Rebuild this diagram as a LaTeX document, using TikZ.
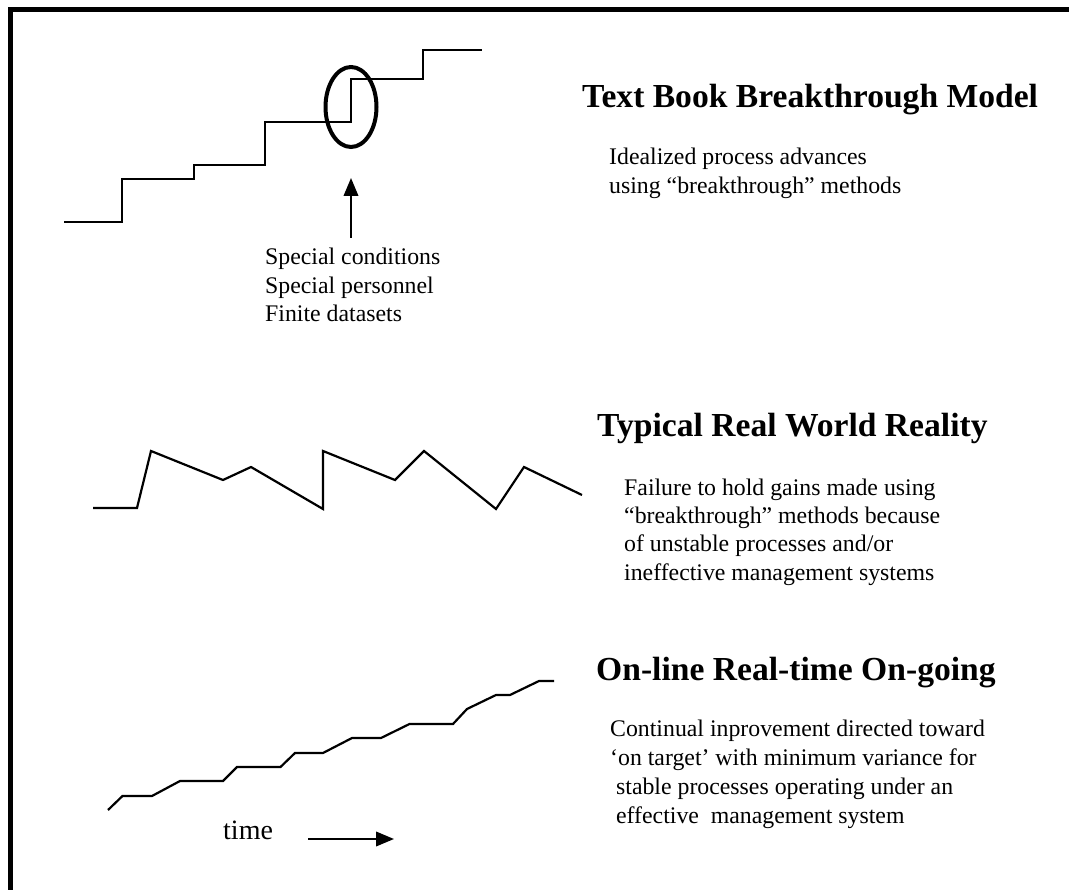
\documentclass[tikz,border=0pt]{standalone}
\usepackage{fontspec}
\setmainfont{Liberation Serif}
\usetikzlibrary{arrows.meta,shapes.geometric}

\begin{document}
\begin{tikzpicture}[x=1pt,y=-1pt]
  \tikzstyle{every node}=[inner sep=0pt,anchor=base west,align=left]
  \tikzstyle{heading}=[font=\fontsize{33.6}{40}\selectfont\bfseries]
  \tikzstyle{body}=[font=\fontsize{23.8}{28.4}\selectfont]
  \tikzstyle{trace}=[line width=2.2pt]
  \tikzstyle{pointer}=[line width=2.2pt,-{Triangle[length=18pt,width=14.5pt]}]
  \useasboundingbox (0,0) rectangle (1069,890);
  \draw[line width=5pt] (10,890) -- (10,10) -- (1069,10);

  \draw[trace] (64,222) -| (122,179) -| (194,165) -| (265,122) -| (351,79) -| (423,50) -- (482,50);
  \node[ellipse,draw,line width=4pt,minimum width=51pt,minimum height=80pt,anchor=center] (ring) at (351,107) {};
  \coordinate (foot) at (351,238);
  \coordinate (tip) at (351,178);
  \draw[pointer] (foot) -- (tip);
  \node[body] (cond) at (265,321.8) {Special conditions\\Special personnel\\Finite datasets};
  \node[heading] (model) at (582,108) {Text Book Breakthrough Model};
  \node[body] (ideal) at (609,193.4) {Idealized process advances\\using “breakthrough” methods};

  \draw[trace] (93,508) -- (137,508) -- (151,451) -- (223,480) -- (251,467) -- (323,509) -- (323,451)
    -- (395,480) -- (424,451) -- (496,509) -- (524,467) -- (582,495);
  \node[heading] (real) at (597,437) {Typical Real World Reality};
  \node[body] (fail) at (624,580.2) {Failure to hold gains made using\\“breakthrough” methods because\\of unstable processes and/or\\ineffective management systems};

  \draw[trace] (108,810) -- (122.5,796) -- (152,796) -- (180,781) -- (223,781) -- (237,767) -- (280.5,767)
    -- (295,753) -- (323,753) -- (352,738) -- (381,738) -- (409.5,724) -- (453,724) -- (467,709)
    -- (496,695) -- (510,695) -- (539,681) -- (554,681);
  \node[heading] (online) at (596,680) {On-line Real-time On-going};
  \node[body,font=\fontsize{23.8}{28.9}\selectfont] (cont) at (610,823.4) {Continual inprovement directed toward\\‘on target’ with minimum variance for\\\ stable processes operating under an\\\ effective\ \ management system};
  \node[body,font=\fontsize{28}{34}\selectfont] (time) at (223,839) {time};
  \coordinate (t0) at (308,839);
  \coordinate (t1) at (394,839);
  \draw[pointer] (t0) -- (t1);
\end{tikzpicture}
\end{document}
